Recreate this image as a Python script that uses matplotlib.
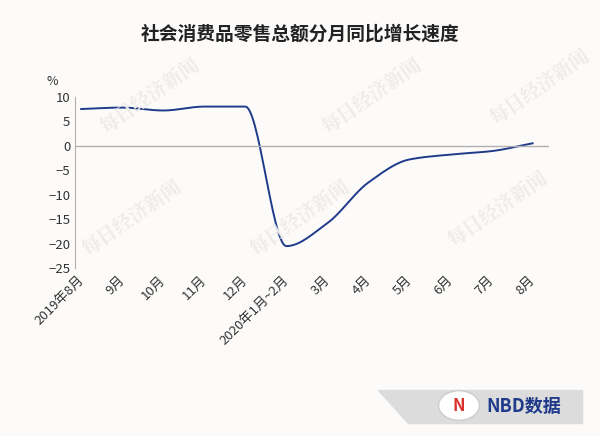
import matplotlib.pyplot as plt
import numpy as np
from matplotlib.patches import Polygon, Circle

plt.rcParams['font.family'] = ['Noto Sans CJK SC', 'DejaVu Sans']

# 数据
months = ['2019年8月', '9月', '10月', '11月', '12月', '2020年1月~2月',
          '3月', '4月', '5月', '6月', '7月', '8月']
growth = [7.5, 7.8, 7.2, 8.0, 8.0, -20.5, -15.8, -7.5, -2.8, -1.8, -1.1, 0.5]

# 平滑曲线 (单调三次插值, 不过冲)
def smooth(y, n=30):
    y = np.array(y, dtype=float)
    d = np.diff(y)
    m = np.zeros_like(y)
    m[0], m[-1] = d[0], d[-1]
    for i in range(1, len(y) - 1):
        if d[i-1] * d[i] > 0:
            m[i] = 2 / (1 / d[i-1] + 1 / d[i])
    xs, ys = [], []
    for i in range(len(y) - 1):
        t = np.linspace(0, 1, n, endpoint=False)
        h00 = 2*t**3 - 3*t**2 + 1; h10 = t**3 - 2*t**2 + t
        h01 = -2*t**3 + 3*t**2; h11 = t**3 - t**2
        xs.append(i + t)
        ys.append(h00*y[i] + h10*m[i] + h01*y[i+1] + h11*m[i+1])
    xs.append([len(y)-1]); ys.append([y[-1]])
    return np.concatenate(xs), np.concatenate(ys)

fig = plt.figure(figsize=(6, 4.36), dpi=100)
fig.patch.set_facecolor('#fcfbfa')
ax = fig.add_axes([0.125, 0.385, 0.79, 0.393])
ax.set_facecolor('#fcfbfa')

# 水印
for (x, y) in [(0.25, 0.78), (0.62, 0.78), (0.9, 0.8), (0.22, 0.5), (0.5, 0.5), (0.83, 0.52)]:
    fig.text(x, y, '每日经济新闻', rotation=35, fontsize=14, color='#eeecea',
             family=['Noto Serif CJK SC', 'Noto Sans CJK SC'],
             ha='center', va='center', fontweight='bold', zorder=0)

sx, sy = smooth(growth)
ax.plot(sx, sy, color='#1f3a8a', lw=1.4)
ax.axhline(0, color='#b0b0b0', lw=1)
ax.set_ylim(-25, 10)
ax.set_xlim(-0.15, 11.4)
ax.set_yticks(range(-25, 11, 5))
ax.set_xticks(np.arange(len(months)) - 0.1)
ax.set_xticklabels(months, rotation=45, ha='right', rotation_mode='anchor', fontsize=9.5, color='#333333')
ax.tick_params(axis='y', labelsize=9.5, colors='#333333', length=0)
ax.tick_params(axis='x', length=0, pad=4)
for s in ['top', 'right', 'bottom']:
    ax.spines[s].set_visible(False)
ax.spines['left'].set_color('#b0b0b0')
ax.text(-0.06, 1.07, '%', transform=ax.transAxes, fontsize=9, color='#333333')

fig.text(0.5, 0.91, '社会消费品零售总额分月同比增长速度', ha='center', fontsize=13.5,
         fontweight='bold', color='#222222')

# 底部标识
fig.patches.append(Polygon([[0.63, 0.105], [0.97, 0.105], [0.97, 0.03], [0.68, 0.03]],
                           closed=True, transform=fig.transFigure, color='#dcdcdc', zorder=1))
fig.patches.append(Circle((0.765, 0.07), 0.034, transform=fig.transFigure,
                          facecolor='white', edgecolor='#cccccc', zorder=2))
fig.text(0.765, 0.068, 'N', ha='center', va='center', fontsize=12, fontweight='bold',
         color='#d9302c', zorder=3)
fig.text(0.81, 0.068, 'NBD数据', ha='left', va='center', fontsize=13, fontweight='bold',
         color='#1f3a8a', zorder=3)

fig.savefig('out.png', dpi=100, facecolor=fig.get_facecolor())
